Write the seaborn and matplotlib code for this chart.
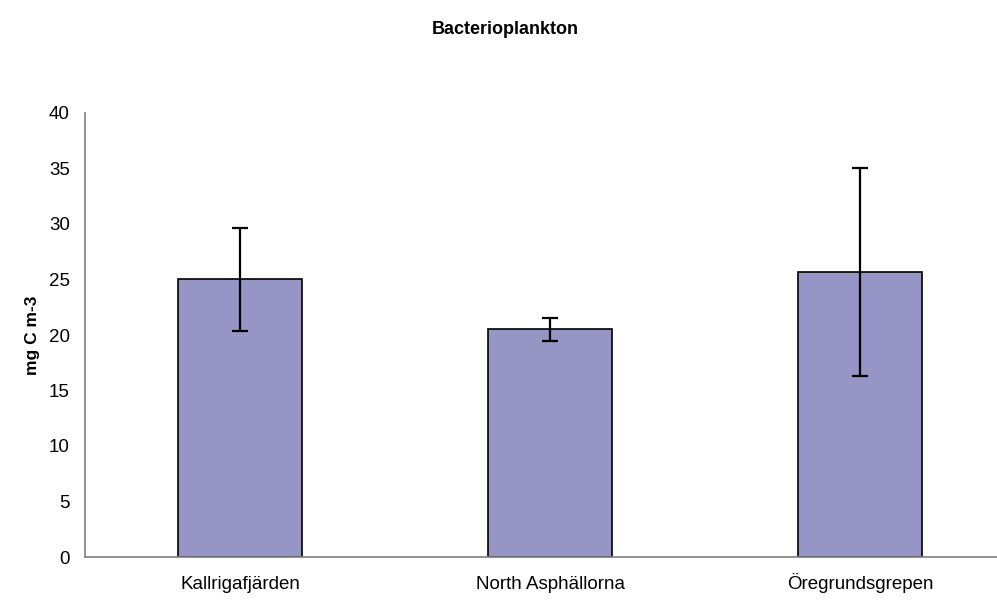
import numpy as np
import pandas as pd
import matplotlib
matplotlib.use('Agg')
import matplotlib.pyplot as plt
import seaborn as sns

# 데이터
sites = ['Kallrigafjärden', 'North Asphällorna', 'Öregrundsgrepen']
biomass = [25.0, 20.5, 25.7]
sd = [4.6, 1.0, 9.35]

df = pd.DataFrame({'site': sites, 'biomass': biomass})

sns.set_style('white')
plt.rcParams['font.family'] = ['Liberation Sans', 'DejaVu Sans']
plt.rcParams['text.color'] = 'black'
plt.rcParams['axes.labelcolor'] = 'black'
plt.rcParams['xtick.color'] = 'black'
plt.rcParams['ytick.color'] = 'black'

fig = plt.figure(figsize=(9.97, 6.01), dpi=100)
ax = fig.add_axes([85 / 997, 44 / 601, 930 / 997, 444 / 601])

sns.barplot(data=df, x='site', y='biomass', color='#9795c5', saturation=1,
            width=0.4, edgecolor='black', linewidth=1.2, errorbar=None, ax=ax)
ax.errorbar(np.arange(len(sites)), biomass, yerr=sd, fmt='none',
            ecolor='black', elinewidth=1.6, capsize=5.8, capthick=1.6)

ax.set_xlim(-0.5, 2.5)
ax.set_ylim(0, 40)
ax.set_yticks(np.arange(0, 41, 5))
ax.set_xlabel('')
ax.set_ylabel('mg C m-3', fontsize=12.5, fontweight='bold', labelpad=6)

# x축 눈금은 범주 경계에만
ax.set_xticks(np.arange(len(sites)))
ax.set_xticklabels(sites, fontsize=13.5)
for lbl in ax.get_xticklabels():
    lbl.set_va('baseline')
ax.set_xticks(np.arange(-0.5, 2.6, 1), minor=True)
ax.tick_params(axis='x', which='major', length=0, pad=23)
ax.tick_params(axis='x', which='minor', length=5, width=1, color='#7f7f7f', direction='out')
ax.tick_params(axis='y', length=5, width=1, color='#7f7f7f', direction='out', labelsize=13.5, pad=6)

for s in ['top', 'right']:
    ax.spines[s].set_visible(False)
for s in ['left', 'bottom']:
    ax.spines[s].set_color('#7f7f7f')
    ax.spines[s].set_linewidth(1.2)

fig.text(505 / 997, 1 - 30 / 601, 'Bacterioplankton', ha='center', va='center',
         fontsize=13, fontweight='bold')

fig.savefig('out.png', dpi=100)
